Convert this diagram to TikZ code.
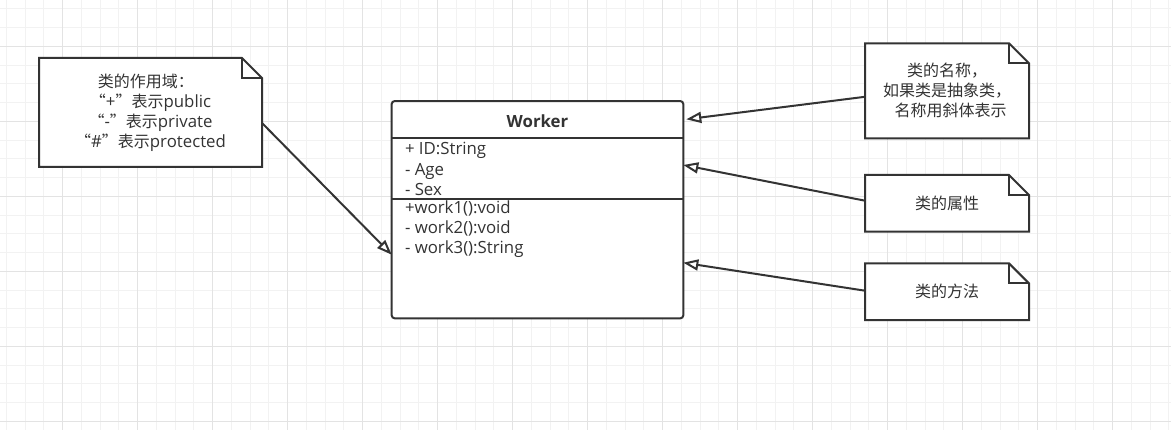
\documentclass[tikz,border=0pt]{standalone}
\usepackage{fontspec}
\setmainfont{Open Sans}
\newfontfamily\cjkfam{Noto Sans CJK SC}
\newcommand\zh[1]{{\cjkfam\fontsize{16}{20}\selectfont #1}}
\usetikzlibrary{arrows.meta}
\definecolor{ink}{HTML}{333333}
\definecolor{gridminor}{HTML}{F2F2F2}
\definecolor{gridmajor}{HTML}{E3E3E3}
\pgfdeclarelayer{bg}
\pgfsetlayers{bg,main}
\begin{document}
\begin{tikzpicture}[x=1pt,y=-1pt,
  txt/.style={text=ink,font=\fontsize{16.8}{20}\selectfont,inner sep=0pt,outer sep=0pt},
  notebox/.style={txt,align=center,minimum width=164pt,inner sep=0pt,outer sep=0pt},
  noteline/.style={draw=ink,line width=2pt,fill=white,line join=miter},
  classbox/.style={draw=ink,line width=2pt,fill=white,rounded corners=3pt,inner sep=0pt,outer sep=0pt},
  conn/.style={draw=ink,line width=2pt,-{Triangle[length=15pt,width=11pt,fill=white]}}
]
\useasboundingbox (0,0) rectangle (1171,430);
\begin{pgfonlayer}{bg}
\fill[white] (0,0) rectangle (1171,430);
\foreach \i in {0,...,62} \draw[gridminor,line width=1pt] ({6.25+18.75*\i},0) -- ({6.25+18.75*\i},430);
\foreach \i in {0,...,22} \draw[gridminor,line width=1pt] (0,{9+18.75*\i}) -- (1171,{9+18.75*\i});
\foreach \i in {0,...,14} \draw[gridmajor,line width=1pt] ({62.5+75*\i},0) -- ({62.5+75*\i},430);
\foreach \i in {0,...,5} \draw[gridmajor,line width=1pt] (0,{46.5+75*\i}) -- (1171,{46.5+75*\i});
\end{pgfonlayer}

% notes
\node[notebox,minimum width=223pt,minimum height=109pt] (scope) at (150.5,112.5)
  {\zh{类的作用域：}\rule{9pt}{0pt}\\\zh{“}+\zh{”表示}public\\\zh{“}-\zh{”表示}private\\\zh{“}\#\zh{”表示}protected};
\node[notebox,minimum height=95pt] (name) at (947,90.8)
  {\zh{类的名称，}\\\zh{如果类是抽象类，}\\\rule{7pt}{0pt}\zh{名称用斜体表示}};
\node[notebox,minimum height=56.7pt] (attr) at (947,203.3) {\zh{类的属性}};
\node[notebox,minimum height=56.7pt] (meth) at (947,291.7) {\zh{类的方法}};

\begin{pgfonlayer}{bg}
\foreach \n in {scope,name,attr,meth} {
  \draw[noteline] (\n.north west) -- ([xshift=-20pt]\n.north east) -- ([yshift=-20pt]\n.north east)
    -- (\n.south east) -- (\n.south west) -- cycle;
  \draw[ink,line width=2pt] ([xshift=-20pt]\n.north east) |- ([yshift=-20pt]\n.north east);
}
\end{pgfonlayer}

% class box
\node[classbox,minimum width=291.6pt,minimum height=217.3pt] (worker) at (537.5,209.7) {};
\draw[ink,line width=2pt] ([yshift=-37.3pt]worker.north west) -- ([yshift=-37.3pt]worker.north east);
\draw[ink,line width=2pt] ([yshift=-98pt]worker.north west) -- ([yshift=-98pt]worker.north east);
\node[txt,font=\fontsize{16.8}{20}\selectfont\bfseries] (title) at (537.5,121) {Worker};
\node[txt,align=left,anchor=west,font=\fontsize{16.8}{20.5}\selectfont] (attrs) at (405,169)
  {+ ID:String\\- Age\\- Sex};
\node[txt,align=left,anchor=west] (meths) at (405,229.3)
  {+work1():void\\- work2():void\\- work3():String};

% connectors
\draw[conn] ([yshift=-10.5pt]scope.east) -- ([yshift=-45pt]worker.west);
\draw[conn] ([yshift=-6pt]name.west) -- ([xshift=3pt,yshift=90.4pt]worker.east);
\draw[conn] ([yshift=2.6pt]attr.west) -- ([yshift=44.7pt]worker.east);
\draw[conn] ([yshift=1pt]meth.west) -- ([yshift=-53pt]worker.east);
\end{tikzpicture}
\end{document}
